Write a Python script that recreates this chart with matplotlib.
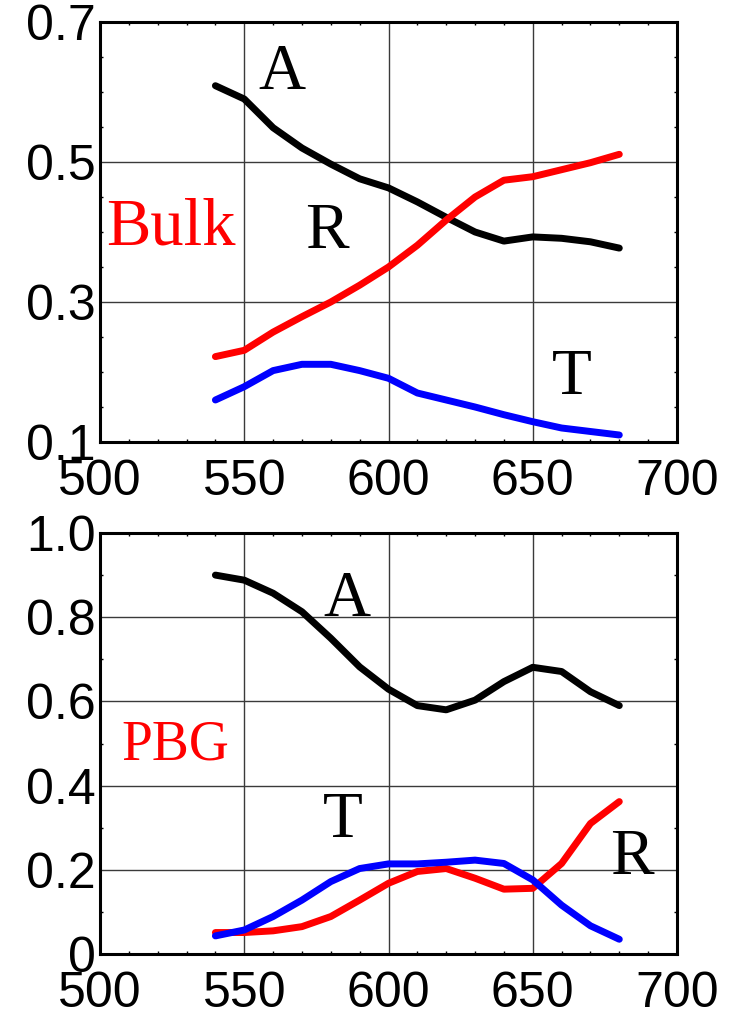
import matplotlib
matplotlib.use("Agg")
import matplotlib.pyplot as plt
from matplotlib.ticker import MultipleLocator, FixedLocator
from matplotlib import font_manager

wavelength = [540, 550, 560, 570, 580, 590, 600, 610, 620, 630, 640, 650, 660, 670, 680]

bulk_A = [0.609, 0.590, 0.549, 0.520, 0.497, 0.476, 0.463, 0.443, 0.421, 0.400, 0.387, 0.393, 0.391, 0.386, 0.377]
bulk_R = [0.222, 0.231, 0.257, 0.279, 0.300, 0.324, 0.350, 0.381, 0.417, 0.450, 0.474, 0.479, 0.489, 0.499, 0.511]
bulk_T = [0.160, 0.179, 0.202, 0.211, 0.211, 0.202, 0.191, 0.170, 0.160, 0.150, 0.139, 0.129, 0.120, 0.115, 0.110]

pbg_A = [0.900, 0.888, 0.857, 0.813, 0.750, 0.682, 0.629, 0.590, 0.580, 0.603, 0.647, 0.681, 0.671, 0.623, 0.590]
pbg_R = [0.051, 0.051, 0.055, 0.065, 0.089, 0.128, 0.168, 0.196, 0.203, 0.180, 0.154, 0.156, 0.215, 0.310, 0.362]
pbg_T = [0.043, 0.057, 0.089, 0.128, 0.172, 0.203, 0.214, 0.214, 0.218, 0.223, 0.215, 0.176, 0.116, 0.067, 0.035]

x_ticks = [500, 550, 600, 650, 700]
top_yticks = [0.1, 0.3, 0.5, 0.7]
top_ylabels = ["0.1", "0.3", "0.5", "0.7"]
bot_yticks = [0.0, 0.2, 0.4, 0.6, 0.8, 1.0]
bot_ylabels = ["0", "0.2", "0.4", "0.6", "0.8", "1.0"]

names = {f.name for f in font_manager.fontManager.ttflist}
tick_font = "Liberation Sans Narrow" if "Liberation Sans Narrow" in names else "Liberation Sans"
serif_font = "Liberation Serif"

W, H = 733, 1011
fig = plt.figure(figsize=(W / 100, H / 100), dpi=100)

def make_axes(top_px, bot_px):
    left, right = 100, 677
    return fig.add_axes([left / W, (H - bot_px) / H, (right - left) / W, (bot_px - top_px) / H])

ax1 = make_axes(22, 442)
ax2 = make_axes(533, 954)

lw = 5.0
def style(ax, ylim, yticks, ylabels, yminor):
    ax.set_xlim(500, 700)
    ax.set_ylim(*ylim)
    ax.xaxis.set_major_locator(FixedLocator(x_ticks))
    ax.xaxis.set_minor_locator(MultipleLocator(10))
    ax.yaxis.set_major_locator(FixedLocator(yticks))
    ax.yaxis.set_minor_locator(MultipleLocator(yminor))
    ax.set_xticklabels([str(v) for v in x_ticks])
    ax.set_yticklabels(ylabels)
    for lab in ax.get_xticklabels() + ax.get_yticklabels():
        lab.set_fontfamily([tick_font, "DejaVu Sans"])
        lab.set_fontsize(36)
    ax.tick_params(which="both", direction="in", top=True, right=True)
    ax.tick_params(which="major", length=0)
    ax.tick_params(axis="y", which="major", pad=3)
    ax.tick_params(axis="x", which="major", pad=12)
    ax.tick_params(which="minor", length=2.5, width=1)
    ax.grid(True, which="major", color="#3a3a3a", linewidth=1.0)
    ax.set_axisbelow(True)
    for s in ax.spines.values():
        s.set_linewidth(2.2)

style(ax1, (0.1, 0.7), top_yticks, top_ylabels, 0.05)
style(ax2, (0.0, 1.0), bot_yticks, bot_ylabels, 0.1)

ax1.plot(wavelength, bulk_A, color="black", lw=lw, solid_capstyle="round")
ax1.plot(wavelength, bulk_R, color="#ff0000", lw=lw, solid_capstyle="round")
ax1.plot(wavelength, bulk_T, color="#0000ff", lw=lw, solid_capstyle="round")

ax2.plot(wavelength, pbg_A, color="black", lw=lw, solid_capstyle="round")
ax2.plot(wavelength, pbg_R, color="#ff0000", lw=lw, solid_capstyle="round")
ax2.plot(wavelength, pbg_T, color="#0000ff", lw=lw, solid_capstyle="round")

tkw = dict(family=serif_font, ha="center", va="center")
ax1.text(563, 0.627, "A", fontsize=47, color="black", **tkw)
ax1.text(524.6, 0.406, "Bulk", fontsize=48, color="#ff0000", **tkw)
ax1.text(578.7, 0.399, "R", fontsize=47, color="black", **tkw)
ax1.text(663.6, 0.191, "T", fontsize=47, color="black", **tkw)

ax2.text(585.5, 0.841, "A", fontsize=47, color="black", **tkw)
ax2.text(526, 0.496, "PBG", fontsize=40, color="#ff0000", **tkw)
ax2.text(584, 0.315, "T", fontsize=47, color="black", **tkw)
ax2.text(684.4, 0.228, "R", fontsize=47, color="black", **tkw)

fig.savefig("out.png", dpi=100)
